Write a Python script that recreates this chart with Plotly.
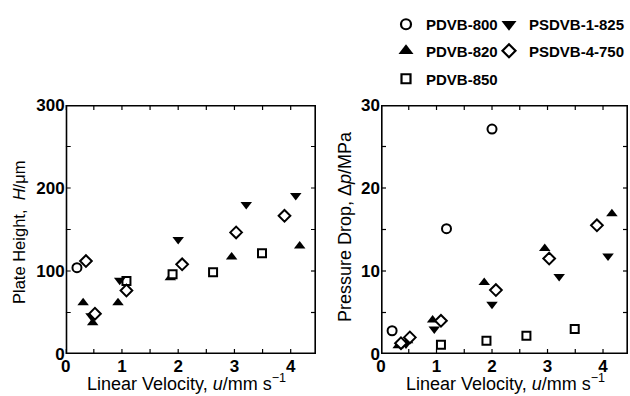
import plotly.graph_objects as go

# ---------------- data ----------------
series_names = ["PDVB-800", "PDVB-820", "PDVB-850", "PSDVB-1-825", "PSDVB-4-750"]

u_pdvb800 = [0.20, 1.18, 2.00]
H_pdvb800 = [104, None, None]
dp_pdvb800 = [2.8, 15.1, 27.1]

u_pdvb820 = [0.31, 0.48, 0.93, 1.86, 2.95, 4.16]
H_pdvb820 = [61.6, 37.6, 61.6, 92, 117, 130]
dp_pdvb820 = [1.0, 1.6, 4.1, 8.6, 12.7, 16.9]

u_pdvb850 = [1.08, 1.90, 2.62, 3.49]
H_pdvb850 = [88, 96, 98.5, 121.5]
dp_pdvb850 = [1.1, 1.6, 2.2, 3.0]

u_psdvb1 = [0.45, 0.96, 2.00, 3.21, 4.09]
H_psdvb1 = [46, 89, 138, 180, 191]
dp_psdvb1 = [1.2, 3.0, 6.0, 9.35, 11.8]

u_psdvb4 = [0.36, 0.52, 1.08, 2.07, 3.03, 3.89]
H_psdvb4 = [112, 48.5, 76.5, 108, 146.5, 166.5]
dp_psdvb4 = [1.3, 2.0, 4.0, 7.7, 11.5, 15.5]

# major tick values (labelled) and minor tick values (unlabelled)
x_ticks = [0, 1, 2, 3, 4]
x_minor = [0.5, 1.5, 2.5, 3.5]
H_ticks = [0, 100, 200, 300]
H_minor = [50, 150, 250]
dp_ticks = [0, 10, 20, 30]
dp_minor = [5, 15, 25]

# ---------------- styles ----------------
FONT = "Arial, Liberation Sans, sans-serif"
styles = {
    "PDVB-800": dict(symbol="circle-open", size=9, color="black", line=dict(width=2, color="black")),
    "PDVB-820": dict(symbol="triangle-up", size=10, color="black", line=dict(width=0)),
    "PDVB-850": dict(symbol="square", size=8, color="white", line=dict(width=2, color="black")),
    "PSDVB-1-825": dict(symbol="triangle-down", size=10, color="black", line=dict(width=0)),
    "PSDVB-4-750": dict(symbol="diamond", size=9, color="white", line=dict(width=2, color="black")),
}
legend_styles = {
    "PDVB-800": dict(symbol="circle-open", size=10, color="black", line=dict(width=2.2, color="black")),
    "PDVB-820": dict(symbol="triangle-up", size=13, color="black", line=dict(width=0)),
    "PDVB-850": dict(symbol="square", size=9, color="white", line=dict(width=2.2, color="black")),
    "PSDVB-1-825": dict(symbol="triangle-down", size=13, color="black", line=dict(width=0)),
    "PSDVB-4-750": dict(symbol="diamond", size=10, color="white", line=dict(width=2.2, color="black")),
}

data = {
    "PDVB-800": (u_pdvb800, H_pdvb800, dp_pdvb800),
    "PDVB-820": (u_pdvb820, H_pdvb820, dp_pdvb820),
    "PDVB-850": (u_pdvb850, H_pdvb850, dp_pdvb850),
    "PSDVB-1-825": (u_psdvb1, H_psdvb1, dp_psdvb1),
    "PSDVB-4-750": (u_psdvb4, H_psdvb4, dp_psdvb4),
}

W, Hh = 630, 396
X1 = (65.7, 316)   # left panel, pixel extent
X2 = (381, 628)    # right panel
YP = (105, 354)    # both panels, pixel extent from top
X_RANGE = [0, 4.45]
H_RANGE = [H_ticks[0], H_ticks[-1]]
DP_RANGE = [dp_ticks[0], dp_ticks[-1]]

fig = go.Figure()

# ---------------- frame and inward ticks, drawn as line traces in each panel's data space ----------------
TICK_PX = 5
panels = [("x", "y", X_RANGE, H_RANGE, x_ticks + x_minor, H_ticks + H_minor, X1),
          ("x2", "y2", X_RANGE, DP_RANGE, x_ticks + x_minor, dp_ticks + dp_minor, X2)]
for xa, ya, xr, yr, xv, yv, xpix in panels:
    dy = TICK_PX * (yr[1] - yr[0]) / (YP[1] - YP[0])
    dx = TICK_PX * (xr[1] - xr[0]) / (xpix[1] - xpix[0])
    tx, ty = [], []
    for v in xv:
        tx += [v, v, None, v, v, None]
        ty += [yr[0], yr[0] + dy, None, yr[1], yr[1] - dy, None]
    for v in yv:
        tx += [xr[0], xr[0] + dx, None, xr[1], xr[1] - dx, None]
        ty += [v, v, None, v, v, None]
    fig.add_trace(go.Scatter(x=tx, y=ty, mode="lines", line=dict(color="black", width=1.2),
                             hoverinfo="skip", showlegend=False, xaxis=xa, yaxis=ya, connectgaps=False))
    fig.add_trace(go.Scatter(x=[xr[0], xr[1], xr[1], xr[0], xr[0]],
                             y=[yr[0], yr[0], yr[1], yr[1], yr[0]],
                             mode="lines", line=dict(color="black", width=3.2),
                             hoverinfo="skip", showlegend=False, xaxis=xa, yaxis=ya))

for name in series_names:
    u, h, dp = data[name]
    fig.add_trace(go.Scatter(x=u, y=h, mode="markers", marker=styles[name],
                             showlegend=False, xaxis="x", yaxis="y"))
    fig.add_trace(go.Scatter(x=u, y=dp, mode="markers", marker=styles[name],
                             showlegend=False, xaxis="x2", yaxis="y2"))

# legend entries (two columns); each entry is its own small legend anchored by its top edge
legend_pos = {
    "PDVB-800": (386, 8, "left"),
    "PDVB-820": (386, 34.5, "left"),
    "PDVB-850": (386, 62.5, "left"),
    "PSDVB-1-825": (630, 8, "right"),
    "PSDVB-4-750": (630, 34.5, "right"),
}
legend_layouts = {}
for i, name in enumerate(series_names):
    key = "legend" if i == 0 else f"legend{i + 1}"
    fig.add_trace(go.Scatter(x=[None], y=[None], mode="markers", name=name,
                             marker=legend_styles[name], legend=key, showlegend=True,
                             xaxis="x", yaxis="y"))
    px, py, anc = legend_pos[name]
    legend_layouts[key] = dict(x=px / W, y=1 - py / Hh, xanchor=anc, yanchor="top",
                               bgcolor="rgba(0,0,0,0)", borderwidth=0,
                               font=dict(family=FONT, size=15, color="black", weight="bold"),
                               itemsizing="trace")


def ticks(major, minor_vals):
    vals = sorted(major + minor_vals)
    text = [str(v) if v in major else "" for v in vals]
    return dict(tickmode="array", tickvals=vals, ticktext=text)


axis_common = dict(showline=False, ticks="", showgrid=False, zeroline=False, automargin=False,
                   tickfont=dict(family=FONT, size=17, color="black", weight="bold"))

fig.update_layout(
    template="none",
    width=W, height=Hh, autosize=False,
    margin=dict(l=0, r=0, t=0, b=0, pad=0),
    paper_bgcolor="white", plot_bgcolor="white",
    font=dict(family=FONT, color="black"),
    xaxis=dict(domain=[X1[0] / W, X1[1] / W], range=X_RANGE, anchor="y",
               **ticks(x_ticks, x_minor), **axis_common),
    yaxis=dict(domain=[1 - YP[1] / Hh, 1 - YP[0] / Hh], range=H_RANGE, anchor="x",
               **ticks(H_ticks, H_minor), **axis_common),
    xaxis2=dict(domain=[X2[0] / W, X2[1] / W], range=X_RANGE, anchor="y2",
                **ticks(x_ticks, x_minor), **axis_common),
    yaxis2=dict(domain=[1 - YP[1] / Hh, 1 - YP[0] / Hh], range=DP_RANGE, anchor="x2",
                **ticks(dp_ticks, dp_minor), **axis_common),
    **legend_layouts,
)

title_font = dict(family=FONT, size=18, color="black")
annotations = [
    dict(text="Linear Velocity, <i>u</i>/mm s<sup>−1</sup>", x=186 / W, y=0,
         xref="paper", yref="paper", showarrow=False, font=title_font, xanchor="center", yanchor="bottom"),
    dict(text="Linear Velocity, <i>u</i>/mm s<sup>−1</sup>", x=505 / W, y=0,
         xref="paper", yref="paper", showarrow=False, font=title_font, xanchor="center", yanchor="bottom"),
    dict(text="Plate Height,  <i>H</i>/μm", x=19 / W, y=1 - 233 / Hh, textangle=-90,
         xref="paper", yref="paper", showarrow=False, font=dict(family=FONT, size=16.5, color="black"),
         xanchor="center", yanchor="middle"),
    dict(text="Pressure Drop, Δ<i>p</i>/MPa", x=345 / W, y=1 - 227 / Hh, textangle=-90,
         xref="paper", yref="paper", showarrow=False, font=title_font, xanchor="center", yanchor="middle"),
]
fig.update_layout(annotations=annotations)

# the page body has a default 8px margin; remove it so the figure sits at the window origin
fig.write_html("out.html", config={"displayModeBar": False},
               post_script="document.body.style.margin='0';")
